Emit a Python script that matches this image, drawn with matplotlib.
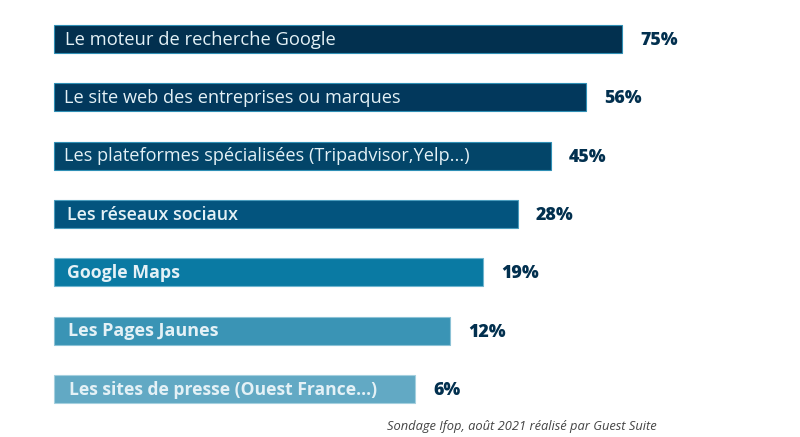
import matplotlib
matplotlib.use('Agg')
import matplotlib.pyplot as plt

categories = [
    'Le moteur de recherche Google',
    'Le site web des entreprises ou marques',
    'Les plateformes spécialisées (Tripadvisor,Yelp...)',
    'Les réseaux sociaux',
    'Google Maps',
    'Les Pages Jaunes',
    'Les sites de presse (Ouest France...)',
]
value_labels = ['75%', '56%', '45%', '28%', '19%', '12%', '6%']
# the bars are not proportional to the percentages, lengths are read off the picture
bar_lengths = [568, 532, 497, 464, 429, 396, 361]
bar_colors = ['#02304f', '#02385c', '#034569', '#03547e', '#0a7aa3', '#3a94b5', '#62a9c4']
edge_colors = ['#2f8fb5', '#2f8fb5', '#2f8fb5', '#4a9cbd', '#6fb5cf', '#8cc2d6', '#a5d0df']
label_offsets = [11, 10, 10, 13, 13, 14, 15]
label_weights = ['normal', 'normal', 'normal', 'semibold', 'bold', 'bold', 'bold']
label_sizes = [13.2, 13.1, 13.1, 12.9, 12.8, 13.0, 12.6]

plt.rcParams['font.family'] = ['Open Sans', 'DejaVu Sans']

fig = plt.figure(figsize=(8, 4.37), dpi=100)
ax = fig.add_axes([0, 0, 1, 1])
ax.set_xlim(-54, 746)
ax.set_ylim(6.823, -0.669)
ax.axis('off')

positions = range(len(categories))
ax.barh(positions, bar_lengths, height=0.48, color=bar_colors,
        edgecolor=edge_colors, linewidth=0.8)

for i in positions:
    ax.text(label_offsets[i], i + 0.01, categories[i], color='#e4f1f6', fontsize=label_sizes[i],
            fontweight=label_weights[i], va='center', ha='left')
    ax.text(bar_lengths[i] + 18, i + 0.025, value_labels[i], color='#02304f', fontsize=12.8,
            fontweight='heavy', va='center', ha='left')

ax.text(333, 6.65, 'Sondage Ifop, août 2021 réalisé par Guest Suite', color='#444444',
        fontsize=9.3, fontstyle='italic', va='center', ha='left')

fig.savefig('out.png', dpi=100)
